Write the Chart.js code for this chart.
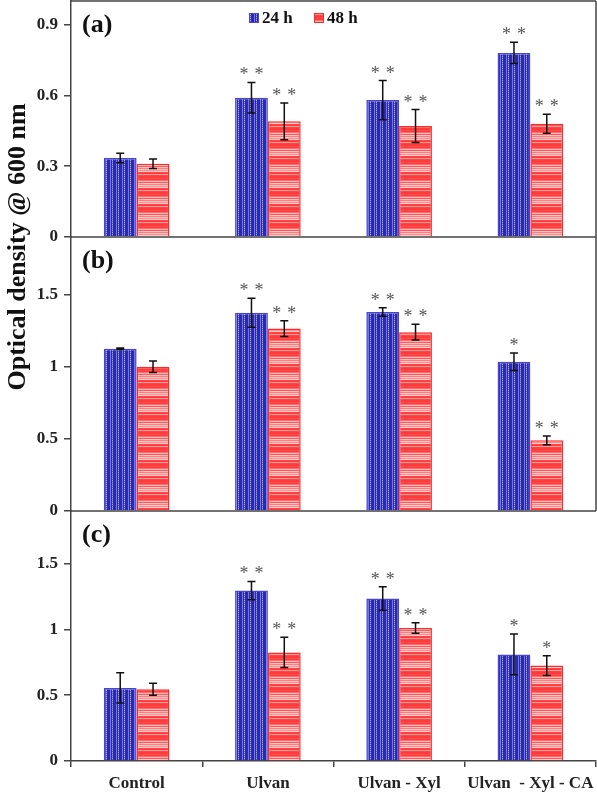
<!DOCTYPE html>
<html>
<head>
<meta charset="utf-8">
<script src="https://cdn.jsdelivr.net/npm/chart.js@4.4.1/dist/chart.umd.min.js"></script>
<style>
    body { margin: 0; background: #fff; }
    #odChart { display: block; }
</style>
</head>
<body>
<canvas id="odChart" width="597" height="792"></canvas>
<script>
// Categories and series
const categories = ['Control', 'Ulvan', 'Ulvan - Xyl', 'Ulvan  - Xyl - CA'];
const seriesLabels = ['24 h', '48 h'];

// panel (a)
const a24 = [0.335, 0.59, 0.58, 0.78];
const a24Err = [0.02, 0.065, 0.083, 0.045];
const a48 = [0.31, 0.49, 0.47, 0.48];
const a48Err = [0.02, 0.078, 0.07, 0.04];
const a24Sig = ['', '**', '**', '**'];
const a48Sig = ['', '**', '**', '**'];

// panel (b)
const b24 = [1.125, 1.375, 1.38, 1.035];
const b24Err = [0.005, 0.1, 0.03, 0.06];
const b48 = [1.0, 1.265, 1.24, 0.49];
const b48Err = [0.04, 0.055, 0.055, 0.03];
const b24Sig = ['', '**', '**', '*'];
const b48Sig = ['', '**', '**', '**'];

// panel (c)
const c24 = [0.555, 1.295, 1.235, 0.81];
const c24Err = [0.115, 0.07, 0.09, 0.155];
const c48 = [0.545, 0.825, 1.01, 0.725];
const c48Err = [0.045, 0.115, 0.04, 0.075];
const c24Sig = ['', '**', '**', '*'];
const c48Sig = ['', '**', '**', '*'];

const panelNames = ['(a)', '(b)', '(c)'];
const yTitle = 'Optical density @ 600 nm';

const serifBold = '"Liberation Serif", "Times New Roman", serif';
const axisColor = '#444';

// Blue bars: vertical dotted stripes
function makeBluePattern() {
    const c = document.createElement('canvas');
    c.width = 6; c.height = 4;
    const g = c.getContext('2d');
    g.fillStyle = '#2a2aae'; g.fillRect(0, 0, 6, 4);
    g.fillStyle = '#7878d8'; g.fillRect(2, 0, 1, 4);
    g.fillStyle = '#a8a8ec'; g.fillRect(4, 0, 1, 1); g.fillRect(4, 2, 1, 1);
    g.fillStyle = '#5858c6'; g.fillRect(4, 1, 1, 1); g.fillRect(4, 3, 1, 1);
    return g.createPattern(c, 'repeat');
}

// Red bars: horizontal stripes in bands
function makeRedPattern() {
    const rows = ['#ff3a3a', '#ff3a3a', '#ff4c4c', '#ff3a3a', '#ff6e6e', '#ffb4b4', '#ff5a5a', '#ffc2c2',
                  '#ff7a7a', '#ffc8c8', '#ff8a8a', '#ffd0d0', '#ff4444', '#ff3a3a', '#ff9c9c', '#ff4444'];
    const c = document.createElement('canvas');
    c.width = 4; c.height = rows.length;
    const g = c.getContext('2d');
    rows.forEach((col, i) => { g.fillStyle = col; g.fillRect(0, i, 4, 1); });
    return g.createPattern(c, 'repeat');
}

const bluePattern = makeBluePattern();
const redPattern = makeRedPattern();

function barSet(label, data, err, sig, axis, is24) {
    return {
        label: label,
        data: data,
        errors: err,
        sig: sig,
        yAxisID: axis,
        stack: is24 ? 's24' : 's48',
        backgroundColor: is24 ? bluePattern : redPattern,
        borderColor: is24 ? '#4646d2' : '#ff2a2a',
        borderWidth: 1.5,
        categoryPercentage: 0.5,
        barPercentage: 1.0
    };
}

function yScale(max, step, weight) {
    return {
        type: 'linear',
        position: 'left',
        stack: 'panels',
        stackWeight: weight,
        stacked: false,
        min: 0,
        max: max,
        afterFit: (scale) => {
            scale.width = 71;
            scale.paddingTop = 0;
            scale.paddingBottom = 0;
        },
        border: { display: true, color: axisColor, width: 1.5 },
        grid: { drawOnChartArea: false, tickLength: 7, color: axisColor, lineWidth: 1.5 },
        ticks: {
            stepSize: step,
            includeBounds: false,
            padding: 6,
            color: '#222',
            font: { family: serifBold, size: 17, weight: 'bold' },
            callback: (v) => String(+(+v).toFixed(2))
        }
    };
}

// Error bars, asterisks, frame lines, panel letters, legend, y title
const decorations = {
    id: 'decorations',
    afterDatasetsDraw(chart) {
        const ctx = chart.ctx;
        const area = chart.chartArea;
        ctx.save();

        chart.data.datasets.forEach((ds, di) => {
            const meta = chart.getDatasetMeta(di);
            const ys = chart.scales[ds.yAxisID];
            meta.data.forEach((bar, i) => {
                const v = ds.data[i];
                const e = ds.errors[i];
                const yTop = ys.getPixelForValue(v + e);
                const yBot = ys.getPixelForValue(v - e);
                ctx.strokeStyle = '#111';
                ctx.lineWidth = 1.5;
                ctx.beginPath();
                ctx.moveTo(bar.x, yTop); ctx.lineTo(bar.x, yBot);
                ctx.moveTo(bar.x - 4, yTop); ctx.lineTo(bar.x + 4, yTop);
                ctx.moveTo(bar.x - 4, yBot); ctx.lineTo(bar.x + 4, yBot);
                ctx.stroke();

                const s = ds.sig[i];
                if (s) {
                    ctx.fillStyle = '#555';
                    ctx.font = '18px ' + serifBold;
                    ctx.textAlign = 'center';
                    ctx.textBaseline = 'alphabetic';
                    const yy = Math.min(yTop, ys.getPixelForValue(v)) - 2;
                    if (s === '**') {
                        ctx.fillText('*', bar.x - 7.5, yy);
                        ctx.fillText('*', bar.x + 7.5, yy);
                    } else {
                        ctx.fillText('*', bar.x, yy);
                    }
                }
            });
        });

        // frame: top, right and the panel separators
        const ya = chart.scales.ya, yb = chart.scales.yb, yc = chart.scales.yc;
        ctx.strokeStyle = axisColor;
        ctx.lineWidth = 1.5;
        ctx.beginPath();
        ctx.moveTo(area.left, area.top); ctx.lineTo(area.right, area.top);
        ctx.moveTo(area.right, area.top); ctx.lineTo(area.right, yb.bottom);
        ctx.moveTo(area.left, ya.bottom); ctx.lineTo(area.right, ya.bottom);
        ctx.moveTo(area.left, yb.bottom); ctx.lineTo(area.right, yb.bottom);
        ctx.stroke();

        // panel letters
        ctx.fillStyle = '#111';
        ctx.font = 'bold 26px ' + serifBold;
        ctx.textAlign = 'left';
        ctx.textBaseline = 'middle';
        [ya, yb, yc].forEach((sc, i) => ctx.fillText(panelNames[i], area.left + 11, sc.top + 24));

        // legend
        const legendX = [249, 314];
        ctx.font = 'bold 17px ' + serifBold;
        [bluePattern, redPattern].forEach((pat, i) => {
            ctx.fillStyle = pat;
            ctx.fillRect(legendX[i], 13, 10, 10);
            ctx.strokeStyle = i === 0 ? '#4646d2' : '#ff2a2a';
            ctx.lineWidth = 1;
            ctx.strokeRect(legendX[i] + 0.5, 13.5, 9, 9);
            ctx.fillStyle = '#111';
            ctx.fillText(seriesLabels[i], legendX[i] + 13, 19);
        });

        // y axis title
        ctx.translate(25, 247);
        ctx.rotate(-Math.PI / 2);
        ctx.font = 'bold 26px ' + serifBold;
        ctx.textAlign = 'center';
        ctx.textBaseline = 'alphabetic';
        ctx.fillText(yTitle, 0, 0);
        ctx.restore();
    }
};

const chart = new Chart(document.getElementById('odChart'), {
    type: 'bar',
    data: {
        labels: categories,
        datasets: [
            barSet(seriesLabels[0], a24, a24Err, a24Sig, 'ya', true),
            barSet(seriesLabels[1], a48, a48Err, a48Sig, 'ya', false),
            barSet(seriesLabels[0], b24, b24Err, b24Sig, 'yb', true),
            barSet(seriesLabels[1], b48, b48Err, b48Sig, 'yb', false),
            barSet(seriesLabels[0], c24, c24Err, c24Sig, 'yc', true),
            barSet(seriesLabels[1], c48, c48Err, c48Sig, 'yc', false)
        ]
    },
    options: {
        responsive: false,
        animation: false,
        devicePixelRatio: 1,
        layout: { padding: { top: 1, right: 1, left: 0, bottom: 0 } },
        plugins: {
            legend: { display: false },
            tooltip: { enabled: false }
        },
        scales: {
            x: {
                type: 'category',
                afterFit: (scale) => {
                    scale.height = 31;
                    scale.paddingRight = 0;
                    scale.paddingLeft = 0;
                },
                border: { display: true, color: axisColor, width: 1.5 },
                grid: { offset: true, drawOnChartArea: false, tickLength: 6, color: axisColor, lineWidth: 1.5 },
                ticks: {
                    color: '#222',
                    padding: 6,
                    maxRotation: 0,
                    font: { family: serifBold, size: 17, weight: 'bold' }
                }
            },
            // left boxes are stacked in reverse order, so the top panel comes last
            yc: yScale(1.9, 0.5, 250),
            yb: yScale(1.9, 0.5, 274),
            ya: yScale(1.0, 0.3, 236)
        }
    },
    plugins: [decorations]
});
</script>
</body>
</html>
